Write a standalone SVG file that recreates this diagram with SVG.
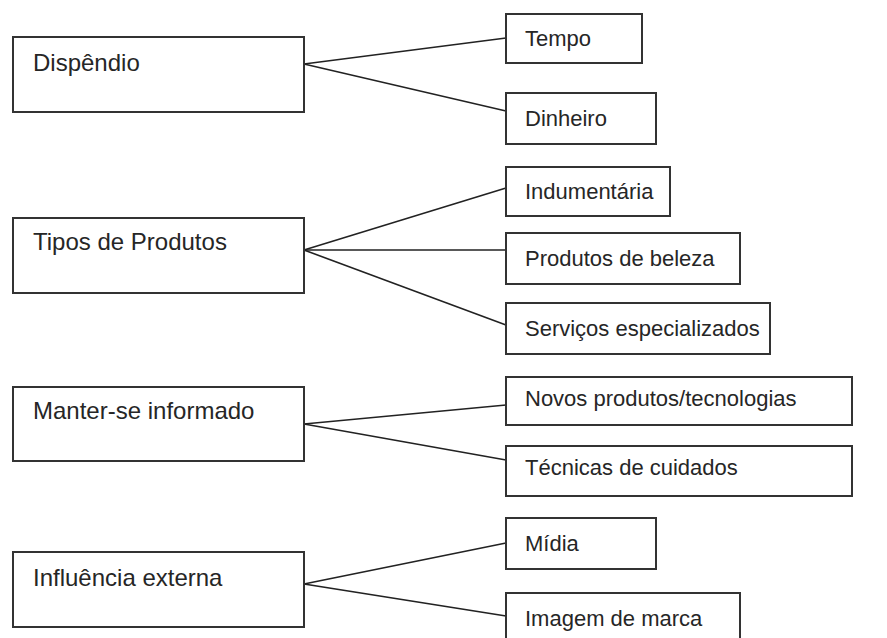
<svg xmlns="http://www.w3.org/2000/svg" width="887" height="638" viewBox="0 0 887 638">
<style>
.box{fill:#fff;stroke:#333;stroke-width:2}
.t{font-family:"Liberation Sans",Arial,sans-serif;font-size:24px;fill:#262626}
.r{font-size:22px}
.c{stroke:#222;stroke-width:1.6;fill:none}
</style>
<rect width="887" height="638" fill="#fff"/>
<g id="connectors">
<line class="c" x1="304" y1="64" x2="506" y2="38"/>
<line class="c" x1="304" y1="64" x2="506" y2="111"/>
<line class="c" x1="304" y1="250" x2="506" y2="188"/>
<line class="c" x1="304" y1="250" x2="506" y2="250"/>
<line class="c" x1="304" y1="250" x2="506" y2="325"/>
<line class="c" x1="304" y1="424" x2="506" y2="405"/>
<line class="c" x1="304" y1="424" x2="506" y2="460"/>
<line class="c" x1="304" y1="584" x2="506" y2="543"/>
<line class="c" x1="304" y1="584" x2="506" y2="616"/>
</g>
<g id="dispendio"><rect class="box" x="13" y="37" width="291" height="75"/><text class="t" x="33" y="71">Dispêndio</text></g>
<g id="tempo"><rect class="box" x="506" y="14" width="136" height="49"/><text class="t r" x="525" y="46">Tempo</text></g>
<g id="dinheiro"><rect class="box" x="506" y="93" width="150" height="51"/><text class="t r" x="525" y="126">Dinheiro</text></g>
<g id="tipos"><rect class="box" x="13" y="218" width="291" height="75"/><text class="t" x="33" y="250">Tipos de Produtos</text></g>
<g id="indumentaria"><rect class="box" x="506" y="167" width="164" height="49"/><text class="t r" x="525" y="199">Indumentária</text></g>
<g id="beleza"><rect class="box" x="506" y="233" width="234" height="51"/><text class="t r" x="525" y="266">Produtos de beleza</text></g>
<g id="servicos"><rect class="box" x="506" y="303" width="264" height="51"/><text class="t r" x="525" y="336">Serviços especializados</text></g>
<g id="manter"><rect class="box" x="13" y="387" width="291" height="74"/><text class="t" x="33" y="419">Manter-se informado</text></g>
<g id="novos"><rect class="box" x="506" y="377" width="346" height="48"/><text class="t r" x="525" y="406">Novos produtos/tecnologias</text></g>
<g id="tecnicas"><rect class="box" x="506" y="446" width="346" height="50"/><text class="t r" x="525" y="475">Técnicas de cuidados</text></g>
<g id="influencia"><rect class="box" x="13" y="552" width="291" height="75"/><text class="t" x="33" y="586">Influência externa</text></g>
<g id="midia"><rect class="box" x="506" y="518" width="150" height="51"/><text class="t r" x="525" y="551">Mídia</text></g>
<g id="imagem"><rect class="box" x="506" y="593" width="234" height="60"/><text class="t r" x="525" y="626">Imagem de marca</text></g>
</svg>
